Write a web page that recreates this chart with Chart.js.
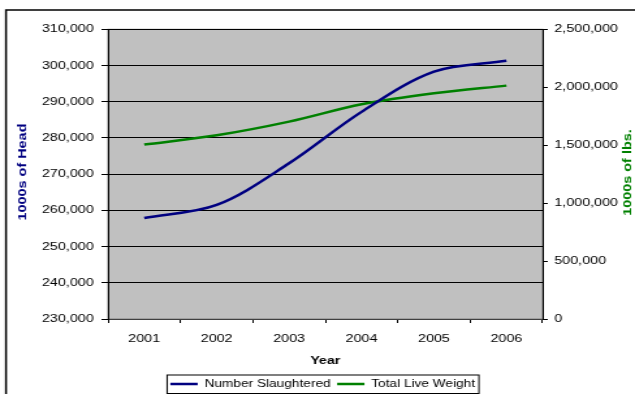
<!DOCTYPE html>
<html lang="en">
<head>
<meta charset="UTF-8">
<title>Number Slaughtered and Total Live Weight</title>
<style>
   html, body { margin: 0; padding: 0; background: #fff; }
   /* the reference text is drawn wide, so the whole chart is stretched sideways */
   #wrap { width: 488px; height: 394px; transform: scaleX(1.30123); transform-origin: 0 0; }
</style>
</head>
<body>
<div id="wrap"><canvas id="myChart" width="488" height="394"></canvas></div>

<script src="https://cdn.jsdelivr.net/npm/chart.js"></script>
<script>
   const years = ['2001', '2002', '2003', '2004', '2005', '2006'];
   const numberSlaughtered = [257900, 261500, 273000, 287200, 298300, 301300];
   const totalLiveWeight = [1505000, 1585000, 1703000, 1853000, 1948000, 2014000];

   const FONT = '"Liberation Sans", Arial, sans-serif';
   Chart.defaults.font.family = FONT;
   Chart.defaults.color = '#000';

   // rotated axis title, reading bottom to top
   function sideTitle(ctx, text, x, y, color) {
      ctx.save();
      ctx.translate(x, y);
      ctx.rotate(-Math.PI / 2);
      ctx.scale(1.6, 1);
      ctx.font = 'bold 9px ' + FONT;
      ctx.fillStyle = color;
      ctx.textAlign = 'center';
      ctx.textBaseline = 'middle';
      ctx.fillText(text, 0, 0);
      ctx.restore();
   }

   const frame = {
      id: 'frame',
      beforeDraw(chart) {
         const { ctx, chartArea: a } = chart;
         ctx.save();
         ctx.fillStyle = '#fff';
         ctx.fillRect(0, 0, chart.width, chart.height);
         ctx.strokeStyle = '#000';
         ctx.lineWidth = 1.5;
         ctx.strokeRect(4.6, 10, 1000, 1000);
         ctx.fillStyle = '#c0c0c0';
         ctx.fillRect(a.left, a.top, a.right - a.left, a.bottom - a.top);
         ctx.strokeStyle = '#808080';
         ctx.lineWidth = 1;
         ctx.strokeRect(a.left, a.top, a.right - a.left, a.bottom - a.top);
         ctx.restore();
      },
      afterDraw(chart) {
         const ctx = chart.ctx;
         sideTitle(ctx, '1000s of Head', 17.3, 172, '#000080');
         sideTitle(ctx, '1000s of lbs.', 482.6, 172.5, '#008000');

         const boxes = chart.legend.legendHitBoxes;
         if (!boxes || !boxes.length) return;
         const left = Math.min(...boxes.map(b => b.left)) - 2.5;
         const right = Math.max(...boxes.map(b => b.left + b.width)) + 3;
         const cy = boxes[0].top + boxes[0].height / 2;
         ctx.save();
         ctx.strokeStyle = '#000';
         ctx.lineWidth = 1;
         ctx.strokeRect(left, cy - 9, right - left, 18.5);
         ctx.restore();
      }
   };

   new Chart(document.getElementById('myChart'), {
      type: 'line',
      data: {
         labels: years,
         datasets: [{
            label: 'Number Slaughtered',
            data: numberSlaughtered,
            yAxisID: 'y',
            borderColor: '#000080',
            backgroundColor: '#000080',
            borderWidth: 2.5,
            pointRadius: 0,
            tension: 0.33,
            fill: false
         }, {
            label: 'Total Live Weight',
            data: totalLiveWeight,
            yAxisID: 'y2',
            borderColor: '#008000',
            backgroundColor: '#008000',
            borderWidth: 2.5,
            pointRadius: 0,
            tension: 0.33,
            fill: false
         }]
      },
      options: {
         responsive: false,
         devicePixelRatio: 1,
         animation: false,
         layout: { padding: { left: 8, right: 0, top: 29.3, bottom: -5.25 } },
         plugins: {
            legend: {
               position: 'bottom',
               labels: {
                  usePointStyle: true,
                  pointStyle: 'line',
                  pointStyleWidth: 21,
                  padding: 5,
                  color: '#000',
                  font: { size: 10.5 }
               }
            },
            tooltip: { enabled: false }
         },
         scales: {
            x: {
               offset: true,
               grid: { offset: true, drawOnChartArea: false, tickLength: 4, color: '#000' },
               border: { color: '#404040', width: 1 },
               ticks: { font: { size: 11 }, padding: 9 },
               title: { display: true, text: 'Year', font: { size: 11, weight: 'bold' }, padding: { top: 0, bottom: 6 } },
               afterFit: (s) => { s.height = 54.75; }
            },
            y: {
               position: 'left',
               min: 230000,
               max: 310000,
               ticks: {
                  stepSize: 10000,
                  padding: 6,
                  font: { size: 11 },
                  callback: (v) => v.toLocaleString('en-US')
               },
               grid: { color: '#000', lineWidth: 1, tickLength: 5 },
               border: { color: '#000', width: 1 },
               afterFit: (s) => { s.width = 75; }
            },
            y2: {
               position: 'right',
               min: 0,
               max: 2500000,
               ticks: {
                  stepSize: 500000,
                  padding: 5,
                  font: { size: 11 },
                  callback: (v) => v.toLocaleString('en-US')
               },
               grid: { drawOnChartArea: false, color: '#000', tickLength: 4 },
               border: { color: '#000', width: 1 },
               afterFit: (s) => { s.width = 71; }
            }
         }
      },
      plugins: [frame]
   });
</script>
</body>
</html>
